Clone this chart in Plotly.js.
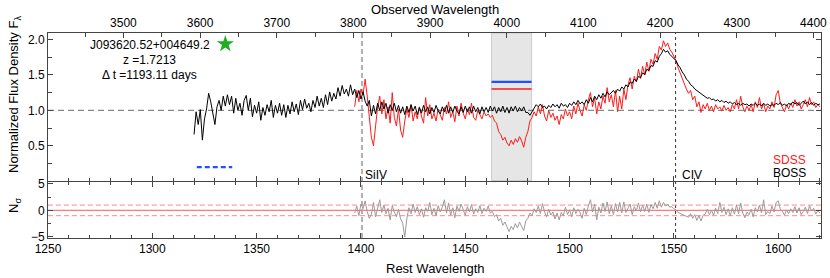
<!DOCTYPE html>
<html>
<head>
<meta charset="utf-8">
<script src="https://cdn.plot.ly/plotly-3.0.1.min.js"></script>
<style>html,body{margin:0;padding:0;background:#fff;}#chart{width:830px;height:278px;}</style>
</head>
<body>
<div id="chart"></div>
<script>
// ---------------- data ----------------
const redshift = 1.7213;
const restRange = [1250, 1620.5];

// BOSS spectrum: rest wavelength 1320..1620, 1 A step
const bossStart = 1320;
const bossFlux = [
 0.66,0.98,0.80,1.01,0.58,0.88,1.02,1.24,1.12,0.95, // 1320
 0.80,1.05,1.14,1.00,1.20,1.06,1.22,1.08,1.20,0.96, // 1330
 1.17,1.00,1.10,0.93,1.14,1.21,1.00,1.17,0.91,1.07, // 1340
 0.96,1.12,0.86,1.04,0.93,1.08,0.98,1.14,0.90,1.07, // 1350
 0.96,1.10,0.93,1.08,0.90,1.07,0.95,1.12,0.98,1.09, // 1360
 0.94,1.14,1.01,1.16,1.03,1.10,0.98,1.14,1.04,1.20, // 1370
 1.06,1.17,1.04,1.22,1.08,1.26,1.13,1.24,1.16,1.32, // 1380
 1.20,1.35,1.23,1.30,1.20,1.36,1.22,1.30,1.18,1.28, // 1390
 1.16,1.26,1.13,1.06,1.14,0.92,1.07,0.95,1.10,1.00, // 1400
 1.12,1.02,1.10,0.96,1.08,1.00,1.10,0.98,1.07,0.96, // 1410
 1.05,0.94,1.06,0.97,1.08,0.99,1.06,0.94,1.04,0.96, // 1420
 1.07,0.98,1.05,0.95,1.04,0.97,1.07,0.99,0.95,1.05, // 1430
 0.98,1.07,0.96,1.05,0.97,1.06,0.99,0.95,1.05,0.97, // 1440
 1.06,0.98,1.05,0.96,1.06,0.98,1.04,0.95,1.05,0.98, // 1450
 1.04,0.97,1.06,0.99,1.05,0.96,1.04,0.98,1.06,0.97, // 1460
 1.04,0.96,1.05,0.99,1.06,0.98,1.04,0.99,1.05,0.97, // 1470
 0.97,0.93,0.98,1.04,1.08,1.05,1.09,1.04,1.06,1.02, // 1480
 1.07,1.04,1.09,1.05,1.08,1.03,1.10,1.06,1.08,1.04, // 1490
 1.10,1.07,1.12,1.08,1.14,1.09,1.12,1.08,1.15,1.10, // 1500
 1.18,1.12,1.20,1.15,1.22,1.17,1.24,1.19,1.26,1.22, // 1510
 1.25,1.28,1.24,1.30,1.27,1.33,1.30,1.36,1.33,1.40, // 1520
 1.38,1.44,1.41,1.48,1.46,1.53,1.50,1.58,1.56,1.63, // 1530
 1.62,1.70,1.68,1.76,1.80,1.86,1.82,1.84,1.79,1.76, // 1540
 1.72,1.70,1.64,1.60,1.54,1.50,1.44,1.41,1.36,1.34, // 1550
 1.30,1.28,1.25,1.24,1.21,1.20,1.17,1.18,1.15,1.16, // 1560
 1.13,1.15,1.12,1.14,1.11,1.13,1.10,1.12,1.09,1.11, // 1570
 1.08,1.10,1.07,1.10,1.08,1.09,1.06,1.09,1.07,1.10, // 1580
 1.07,1.09,1.06,1.10,1.07,1.09,1.06,1.08,1.07,1.10, // 1590
 1.08,1.11,1.07,1.09,1.06,1.10,1.08,1.12,1.09,1.11, // 1600
 1.07,1.10,1.13,1.09,1.12,1.08,1.11,1.07,1.10,1.08, // 1610
 1.09                                               // 1620
];

// SDSS spectrum: rest wavelength 1397..1620, 1 A step
const sdssStart = 1397;
const sdssFlux = [
 1.05,1.28,1.12,                                    // 1397
 1.30,1.22,1.44,1.20,0.85,0.62,0.50,0.78,1.05,1.20, // 1400
 0.95,1.15,0.88,1.05,0.82,1.25,0.90,0.78,1.02,0.72, // 1410
 0.62,0.85,1.02,0.90,1.08,0.85,0.98,0.88,1.05,0.92, // 1420
 0.82,1.18,0.92,1.08,0.88,0.96,0.85,1.02,0.93,0.86, // 1430
 1.04,0.95,1.12,0.90,0.98,0.84,1.06,0.92,1.10,0.96, // 1440
 0.88,1.02,0.94,1.10,0.90,0.86,1.00,0.94,0.88,0.98, // 1450
 0.92,0.95,0.90,0.93,0.85,0.82,0.70,0.66,0.58,0.62, // 1460
 0.54,0.50,0.58,0.52,0.60,0.55,0.63,0.57,0.48,0.62, // 1470
 0.70,0.85,0.90,0.98,0.92,1.05,0.95,1.08,0.92,0.85, // 1480
 1.00,0.90,0.96,0.86,0.92,0.80,0.94,0.88,1.02,0.92, // 1490
 0.98,0.88,1.06,0.95,1.10,1.00,0.92,1.08,1.00,1.15, // 1500
 1.25,1.05,1.18,0.95,1.12,1.02,1.20,1.10,1.32,1.12, // 1510
 1.22,1.05,1.28,0.98,1.20,1.02,1.30,1.15,1.36,1.46, // 1520
 1.30,1.48,1.40,1.58,1.45,1.62,1.50,1.68,1.55,1.72, // 1530
 1.65,1.80,1.72,1.90,1.85,1.98,1.90,1.95,1.86,1.82, // 1540
 1.75,1.70,1.60,1.52,1.45,1.38,1.30,1.24,1.28,1.15, // 1550
 1.20,1.05,1.12,0.97,1.08,1.02,1.10,1.00,1.06,0.98, // 1560
 1.08,1.02,1.05,0.99,1.07,1.00,1.04,0.98,1.08,1.02, // 1570
 1.15,1.02,1.20,1.05,0.98,1.06,1.00,1.08,0.98,1.12, // 1580
 1.04,1.18,1.02,1.10,0.98,1.06,1.02,1.12,1.04,1.22, // 1590
 1.28,1.10,1.05,0.98,1.08,1.02,1.10,1.04,1.15,1.06, // 1600
 1.12,1.02,1.08,1.15,1.05,1.18,1.08,1.12,1.04,1.08, // 1610
 1.05                                               // 1620
];

// N_sigma residuals: rest wavelength 1397..1620, 1 A step
const residStart = 1397;
const residNsigma = [
 -0.5,0.8,-1.0,                                 // 1397
 1.2,0.3,1.8,-0.2,-1.5,-0.8,1.5,-1.2,0.6,2.0,   // 1400
 -0.4,1.0,-0.6,0.4,-1.8,0.9,-0.3,-1.2,0.2,-1.6, // 1410
 -2.4,-5.0,-1.5,0.5,-0.6,1.2,-0.4,0.7,-0.8,0.3, // 1420
 -1.3,0.5,-0.2,1.5,-0.8,0.4,-1.0,0.9,-0.3,0.6,  // 1430
 2.0,-0.5,1.4,-0.9,0.5,-1.4,0.8,-0.2,1.2,0.1,   // 1440
 -0.9,0.7,-0.3,1.1,-0.7,0.3,-0.4,0.9,-0.6,0.4,  // 1450
 -0.2,0.8,-0.5,-0.2,-1.2,-0.8,-2.0,-1.5,-2.8,-2.2, // 1460
 -3.2,-4.0,-3.0,-3.6,-2.5,-3.3,-2.2,-3.0,-3.8,-2.0, // 1470
 -1.5,-0.5,-1.0,0.3,-0.4,0.8,-0.6,1.3,-0.3,-1.2, // 1480
 0.2,-0.9,-0.3,-1.6,-0.5,-1.8,-0.4,-1.0,0.6,-0.8, // 1490
 0.1,-1.2,0.5,-0.6,0.2,-0.4,-1.5,0.4,-0.8,0.8,  // 1500
 2.0,-0.3,1.2,-1.8,0.6,-0.5,1.4,-0.2,1.6,-0.6,  // 1510
 0.9,-0.8,1.3,-0.3,1.5,-0.5,1.6,-0.4,0.5,1.2,   // 1520
 -0.8,0.7,-0.1,1.4,-0.3,1.0,-0.2,1.2,-0.4,1.1,  // 1530
 0.3,1.5,0.4,1.8,0.6,1.5,0.8,1.2,0.6,0.7,       // 1540
 0.3,0.1,-0.4,-0.6,-0.8,-1.0,-1.2,-1.3,-0.6,-1.5, // 1550
 -0.8,-1.9,-1.0,-2.0,-0.9,-0.7,0.2,-0.8,0.0,-0.9, // 1560
 0.4,-0.6,1.5,-0.4,0.6,-0.8,0.3,-1.0,0.5,-0.7,  // 1570
 1.0,-0.6,1.4,-0.5,-1.4,-0.3,-0.8,0.2,-1.2,0.5, // 1580
 -0.3,1.0,-0.5,2.0,-0.8,-0.2,-0.6,0.8,-0.3,1.5, // 1590
 1.8,0.2,-0.2,-0.9,0.1,-0.6,0.3,-0.4,0.7,-0.5,  // 1600
 0.5,-0.8,-0.2,0.6,-0.6,0.9,-0.1,0.4,-0.7,0.0,  // 1610
 -0.5                                           // 1620
];

// Markers / reference values
const lineNames = ["SiIV", "CIV"];
const lineWaves = [1400.5, 1550.8];
const shadeRange = [1462.6, 1481.8];
const bossLevel = 1.40;   // blue bar in shaded window
const sdssLevel = 1.30;   // red bar in shaded window
const blueDashWave = [1321.3, 1338.3];
const blueDashFlux = [0.20, 0.20];
const starWave = [1335.0];
const starFlux = [1.935];
const objName = "J093620.52+004649.2";
const deltaT = "1193.11";

// ---------------- build ----------------
const grid = (start, n) => Array.from({length: n}, (_, i) => start + i);
const bossWave = grid(bossStart, bossFlux.length);
const sdssWave = grid(sdssStart, sdssFlux.length);
const residWave = grid(residStart, residNsigma.length);

const L = 48, R = 821, T = 33, B = 238;
const px = x => (x - L) / (R - L);
const py = y => (B - y) / (B - T);

const traces = [
  {x: sdssWave, y: sdssFlux, xaxis: 'x3', yaxis: 'y', mode: 'lines',
   line: {color: '#ff1a1a', width: 1}},
  {x: bossWave, y: bossFlux, xaxis: 'x3', yaxis: 'y', mode: 'lines',
   line: {color: '#000000', width: 1}},
  {x: shadeRange, y: [bossLevel, bossLevel], xaxis: 'x3', yaxis: 'y', mode: 'lines',
   line: {color: '#1f4fff', width: 2.2}},
  {x: shadeRange, y: [sdssLevel, sdssLevel], xaxis: 'x3', yaxis: 'y', mode: 'lines',
   line: {color: '#ee2020', width: 1.6}},
  {x: blueDashWave, y: blueDashFlux, xaxis: 'x3', yaxis: 'y', mode: 'lines',
   line: {color: '#1f4fff', width: 2.2, dash: '5px,3px'}},
  {x: starWave, y: starFlux, xaxis: 'x3', yaxis: 'y', mode: 'markers',
   marker: {symbol: 'star', size: 13, color: '#1fae1f', line: {width: 0}}},
  {x: residWave, y: residNsigma, xaxis: 'x', yaxis: 'y2', mode: 'lines',
   line: {color: '#9a9a9a', width: 1}},
  // invisible trace to activate observed-wavelength axis
  {x: [restRange[0] * (1 + redshift)], y: [1], xaxis: 'x2', yaxis: 'y', mode: 'markers',
   marker: {opacity: 0}, hoverinfo: 'skip'}
];

const axCol = '#444';
const tickFont = {family: 'Liberation Sans, Arial, sans-serif', size: 12, color: '#000'};
const common = {showgrid: false, zeroline: false, showline: true, linecolor: axCol, linewidth: 1,
  ticks: 'inside', tickcolor: axCol, tickwidth: 1, tickfont: tickFont, fixedrange: true};

const layout = {
  width: 830, height: 278,
  margin: {l: L, r: 830 - R, t: T, b: 278 - B, pad: 0},
  paper_bgcolor: '#fff', plot_bgcolor: '#fff',
  showlegend: false, hovermode: false,
  font: tickFont,
  xaxis: Object.assign({}, common, {domain: [0, 1], anchor: 'y2', range: restRange,
    dtick: 50, tick0: 1250, ticklen: 5, mirror: 'ticks',
    minor: {dtick: 10, ticks: 'inside', ticklen: 3, tickcolor: axCol}}),
  xaxis3: Object.assign({}, common, {domain: [0, 1], anchor: 'y', range: restRange,
    dtick: 50, tick0: 1250, ticklen: 5, showticklabels: false,
    minor: {dtick: 10, ticks: 'inside', ticklen: 3, tickcolor: axCol}}),
  xaxis2: Object.assign({}, common, {domain: [0, 1], anchor: 'y', side: 'top', overlaying: 'x3',
    range: [restRange[0] * (1 + redshift), restRange[1] * (1 + redshift)],
    dtick: 100, tick0: 3500, ticklen: 5,
    minor: {dtick: 50, ticks: 'inside', ticklen: 4, tickcolor: axCol}}),
  yaxis: Object.assign({}, common, {domain: [0.28, 1], anchor: 'x3', range: [0.01, 2.09],
    dtick: 0.5, tick0: 0, tickformat: '.1f', ticklen: 5, mirror: 'ticks',
    minor: {dtick: 0.25, ticks: 'inside', ticklen: 4, tickcolor: axCol}}),
  yaxis2: Object.assign({}, common, {domain: [0, 0.272], anchor: 'x', range: [-5.2, 5.3],
    dtick: 5, tick0: 0, ticklen: 5, mirror: 'ticks',
    minor: {dtick: 2.5, ticks: 'inside', ticklen: 3, tickcolor: axCol}}),
  shapes: [
    {type: 'rect', xref: 'x3', yref: 'y domain', x0: shadeRange[0], x1: shadeRange[1], y0: 0, y1: 1,
     fillcolor: '#e6e6e6', line: {color: '#cccccc', width: 1}, layer: 'below'},
    {type: 'line', xref: 'x3 domain', yref: 'y', x0: 0, x1: 1, y0: 1, y1: 1,
     line: {color: '#888888', width: 1.2, dash: '6px,4px'}, layer: 'below'},
    {type: 'line', xref: 'x', yref: 'paper', x0: lineWaves[0], x1: lineWaves[0], y0: 0, y1: 1,
     line: {color: '#9a9a9a', width: 1.5, dash: '5px,3px'}, layer: 'below'},
    {type: 'line', xref: 'x', yref: 'paper', x0: lineWaves[1], x1: lineWaves[1], y0: 0, y1: 1,
     line: {color: '#333333', width: 1, dash: '3px,3px'}, layer: 'below'},
    {type: 'line', xref: 'x domain', yref: 'y2', x0: 0, x1: 1, y0: 0, y1: 0,
     line: {color: '#ff7a7a', width: 1.2}, layer: 'below'},
    {type: 'line', xref: 'x domain', yref: 'y2', x0: 0, x1: 1, y0: 1, y1: 1,
     line: {color: '#ff8a8a', width: 1, dash: '5px,3px'}, layer: 'below'},
    {type: 'line', xref: 'x domain', yref: 'y2', x0: 0, x1: 1, y0: -1, y1: -1,
     line: {color: '#ff8a8a', width: 1, dash: '5px,3px'}, layer: 'below'}
  ],
  annotations: [
    {text: objName, x: px(149.5), y: py(44.5), xanchor: 'center', yanchor: 'middle'},
    {text: 'z =' + redshift.toFixed(4), x: px(149.5), y: py(59.5), xanchor: 'center', yanchor: 'middle'},
    {text: '\u0394 t =' + deltaT + ' days', x: px(149), y: py(74.5), xanchor: 'center', yanchor: 'middle'},
    {text: lineNames[0], x: px(364), y: py(174.5), xanchor: 'left', yanchor: 'middle'},
    {text: lineNames[1], x: px(681), y: py(174.5), xanchor: 'left', yanchor: 'middle'},
    {text: 'SDSS', x: px(807), y: py(159.5), xanchor: 'right', yanchor: 'middle', font: {color: '#ff1a1a'}},
    {text: 'BOSS', x: px(807), y: py(173), xanchor: 'right', yanchor: 'middle'},
    {text: 'Observed Wavelength', x: px(435), y: py(10), xanchor: 'center', yanchor: 'middle', font: {size: 13}},
    {text: 'Rest Wavelength', x: px(435), y: py(268), xanchor: 'center', yanchor: 'middle', font: {size: 13}},
    {text: 'Normalized Flux Density F<sub>\u03bb</sub>', x: px(14), y: py(95), xanchor: 'center', yanchor: 'middle',
     textangle: -90, font: {size: 13}},
    {text: 'N<sub>\u03c3</sub>', x: px(14), y: py(206), xanchor: 'center', yanchor: 'middle',
     textangle: -90, font: {size: 13}}
  ].map(a => Object.assign({xref: 'paper', yref: 'paper', showarrow: false, borderpad: 0}, a,
     {font: Object.assign({}, tickFont, a.font || {})}))
};

Plotly.newPlot('chart', traces, layout, {staticPlot: true, displayModeBar: false});
</script>
</body>
</html>
